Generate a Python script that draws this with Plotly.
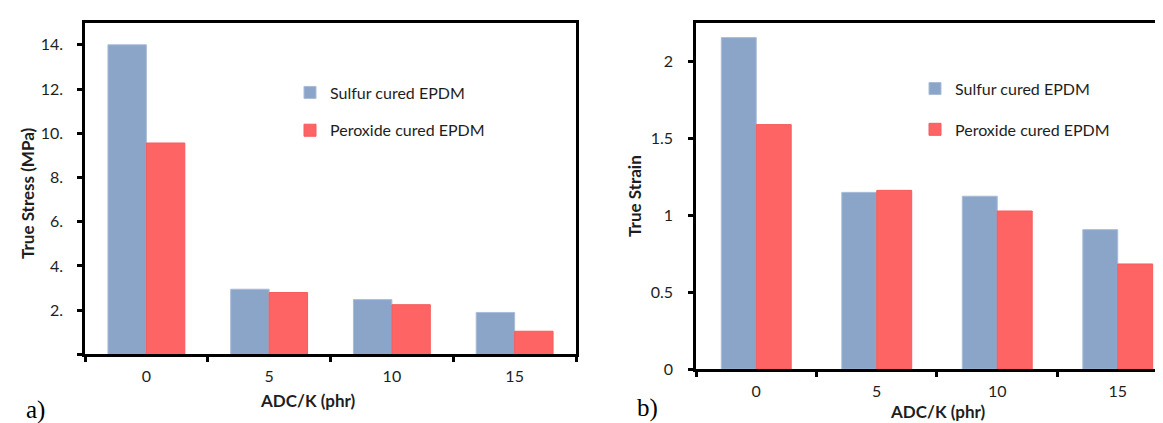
import plotly.graph_objects as go

# ---------------- data ----------------
categories = ["0", "5", "10", "15"]
series_names = ["Sulfur cured EPDM", "Peroxide cured EPDM"]
stress_sulfur = [14.0, 2.95, 2.48, 1.9]
stress_peroxide = [9.56, 2.8, 2.25, 1.05]
strain_sulfur = [2.153, 1.148, 1.123, 0.906]
strain_peroxide = [1.588, 1.161, 1.027, 0.683]
stress_tickvals = [0, 2, 4, 6, 8, 10, 12, 14]
stress_ticktext = ["", "2.", "4.", "6.", "8.", "10.", "12.", "14."]
strain_tickvals = [0, 0.5, 1, 1.5, 2]
strain_ticktext = ["0", "0.5", "1", "1.5", "2"]

# ---------------- style ----------------
W, H = 1163, 423
BLUE = "#8BA5C8"
RED = "#FF6464"
TXT = "#1E1E1E"
FONT = "Lato"


def px(x):
    return x / W


def py(y):
    return 1 - y / H


fig = go.Figure()

wl = 0.313
wr = 0.29
fig.add_trace(go.Bar(x=categories, y=stress_sulfur, name=series_names[0], width=wl, offset=-wl,
                     marker=dict(color=BLUE, line=dict(color="#A9BCD7", width=1)),
                     xaxis="x", yaxis="y", legend="legend", legendgroup="a1"))
fig.add_trace(go.Bar(x=categories, y=stress_peroxide, name=series_names[1], width=wl, offset=0,
                     marker=dict(color=RED, line=dict(color="#F45C5C", width=1)),
                     xaxis="x", yaxis="y", legend="legend", legendgroup="a2"))
fig.add_trace(go.Bar(x=categories, y=strain_sulfur, name=series_names[0], width=wr, offset=-wr,
                     marker=dict(color=BLUE, line=dict(color="#A9BCD7", width=1)),
                     xaxis="x2", yaxis="y2", legend="legend2", legendgroup="b1"))
fig.add_trace(go.Bar(x=categories, y=strain_peroxide, name=series_names[1], width=wr, offset=0,
                     marker=dict(color=RED, line=dict(color="#F45C5C", width=1)),
                     xaxis="x2", yaxis="y2", legend="legend2", legendgroup="b2"))

axis_common = dict(showline=True, linecolor="black", linewidth=2.5, ticks="outside",
                   ticklen=5, tickwidth=2.5, tickcolor="black", showgrid=False, zeroline=False,
                   tickfont=dict(family=FONT, size=16, color=TXT))

fig.update_layout(
    width=W, height=H, margin=dict(l=0, r=0, t=0, b=0),
    paper_bgcolor="white", plot_bgcolor="white",
    barmode="overlay", showlegend=True,
    xaxis=dict(domain=[px(77), px(568)], type="category", range=[-0.5, 3.5], anchor="y",
               mirror=True, tickson="boundaries", ticklabelstandoff=6, **axis_common),
    yaxis=dict(domain=[py(354), py(15)], range=[0, 15], anchor="x", mirror=True,
               tickvals=stress_tickvals, ticktext=stress_ticktext, ticklabelstandoff=11,
               **axis_common),
    xaxis2=dict(domain=[px(688), 1.0], type="category", range=[-0.5, 3.442], anchor="y2",
                mirror=True, tickson="boundaries", ticklabelstandoff=6, **axis_common),
    yaxis2=dict(domain=[py(369), py(15)], range=[0, 2.25], anchor="x2", mirror=False,
                tickvals=strain_tickvals, ticktext=strain_ticktext, ticklabelstandoff=12,
                **axis_common),
    legend=dict(x=px(282), y=py(69), xanchor="left", yanchor="top", bgcolor="rgba(0,0,0,0)",
                font=dict(family=FONT, size=16, color=TXT), traceorder="grouped",
                tracegroupgap=14, itemclick=False, itemdoubleclick=False),
    legend2=dict(x=px(907), y=py(65), xanchor="left", yanchor="top", bgcolor="rgba(0,0,0,0)",
                 font=dict(family=FONT, size=16, color=TXT), traceorder="grouped",
                 tracegroupgap=17, itemclick=False, itemdoubleclick=False),
)

annotations = [
    dict(text="<b>True Stress (MPa)</b>", x=px(20), y=py(190), textangle=-90),
    dict(text="<b>True Strain</b>", x=px(627), y=py(192), textangle=-90),
    dict(text="<b>ADC/K (phr)</b>", x=px(299.5), y=py(401.5)),
    dict(text="<b>ADC/K (phr)</b>", x=px(930), y=py(412)),
]
for a in annotations:
    fig.add_annotation(xref="paper", yref="paper", showarrow=False, xanchor="center",
                       yanchor="middle", font=dict(family=FONT, size=17, color=TXT), **a)

for lbl, x, y in [("a)", 27, 411), ("b)", 639, 409)]:
    fig.add_annotation(text=lbl, xref="paper", yref="paper", x=px(x), y=py(y), showarrow=False,
                       xanchor="center", yanchor="middle",
                       font=dict(family="Liberation Serif", size=25, color="black"))

fig.write_html("out.html")
